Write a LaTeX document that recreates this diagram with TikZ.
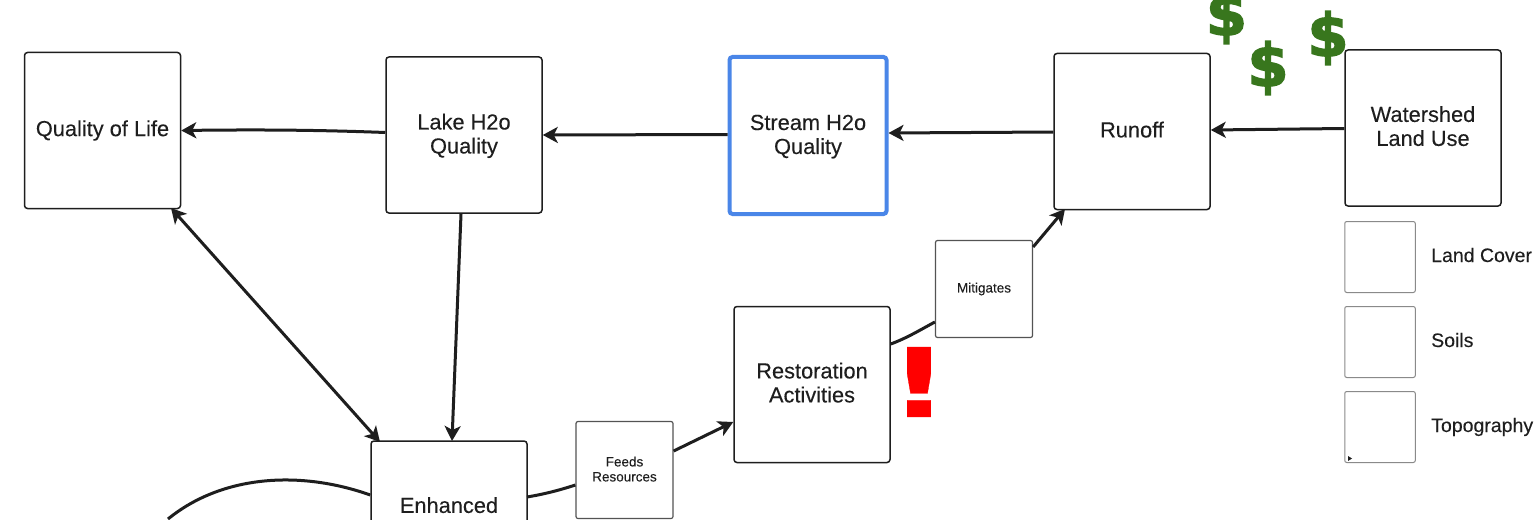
\documentclass[tikz,border=0pt]{standalone}
\usepackage{fontspec}
\setmainfont[FakeBold=0.15]{Liberation Sans}
\newfontfamily\dollarfont[FakeBold=2.6]{DejaVu Sans Bold}
\newfontfamily\bangfont[FakeBold=0.3,FakeStretch=1.4]{DejaVu Sans Bold}
\usetikzlibrary{arrows.meta}
\definecolor{ink}{HTML}{1E1E1E}
\definecolor{frame}{HTML}{8A8A8A}
\definecolor{moneygreen}{HTML}{38761D}
\definecolor{bluebox}{HTML}{4A86E8}
\newcommand{\sdown}[1]{\rule{0pt}{#1pt}}
\newcommand{\lift}[1]{\rule[-#1pt]{0pt}{0pt}}
\tikzset{
  x=1pt,y=-1pt,
  bigbox/.style={draw=ink,line width=1.5pt,rounded corners=3pt,minimum width=156pt,minimum height=156pt,inner sep=0pt,align=center,font=\fontsize{21.8}{24}\selectfont,text=ink,fill=white},
  midbox/.style={draw=frame!60!black,line width=1.2pt,rounded corners=2pt,minimum width=97pt,minimum height=97pt,inner sep=0pt,align=center,font=\fontsize{13.5}{15}\selectfont,text=ink,fill=white},
  legbox/.style={draw=frame,line width=1pt,rounded corners=2pt,minimum width=70.5pt,minimum height=71pt,inner sep=0pt,fill=white},
  legtext/.style={anchor=base west,inner sep=0pt,font=\fontsize{19.5}{22}\selectfont,text=ink},
  link/.style={draw=ink,line width=3pt},
  arrow/.style={link,-{Stealth[length=15pt,width=16pt,inset=4pt]}},
  dbl/.style={link,{Stealth[length=15pt,width=16pt,inset=4pt]}-{Stealth[length=15pt,width=16pt,inset=4pt]}},
  dollar/.style={inner sep=0pt,text=moneygreen,font=\dollarfont\fontsize{59}{59}\selectfont}
}
\begin{document}
\begin{tikzpicture}
\useasboundingbox (0,0) rectangle (1538,519);
\clip (0,0) rectangle (1538,519);
\fill[white] (0,0) rectangle (1538,519);
\node[bigbox] (qol) at (102.5,130.5) {Quality of Life};
\node[bigbox] (lake) at (464,135) {\sdown{17.5}Lake H2o\\Quality};
\node[bigbox,draw=bluebox,line width=4pt,minimum width=157pt,minimum height=157pt] (stream) at (808,135.5) {\sdown{17.5}Stream H2o\\Quality};
\node[bigbox] (runoff) at (1132,131.5) {Runoff\lift{4}};
\node[bigbox] (land) at (1423,128) {Watershed\\Land Use\lift{4}};
\node[bigbox] (rest) at (812,384.5) {Restoration\\Activities\lift{4}};
\node[bigbox] (enh) at (449,519) {Enhanced\\~\lift{4}};
\node[midbox] (mit) at (984,289) {Mitigates};
\node[midbox] (feeds) at (624.5,470) {Feeds\\Resources\lift{2}};
\node[legbox] (l1) at (1380,257) {};
\node[legbox] (l2) at (1380,342) {};
\node[legbox] (l3) at (1380,427) {};
\node[legtext] (t1) at (1431,262) {Land Cover};
\node[legtext] (t2) at (1431,347) {Soils};
\node[legtext] (t3) at (1431,432) {Topography};
\coordinate (m1) at (1348,456);
\coordinate (m2) at (1348,461);
\coordinate (m3) at (1352,458.5);
\fill[ink] (m1) -- (m2) -- (m3) -- cycle;
\draw[arrow] (land.west |- 0,128.5) -- (runoff.east |- 0,130);
\draw[arrow] (runoff.west |- 0,132) -- (stream.east |- 0,133);
\draw[arrow] (stream.west |- 0,134.5) -- (lake.east |- 0,135);
\draw[arrow] (lake.west |- 0,132.5) .. controls (320,130) and (260,129.5) .. (qol.east |- 0,130.5);
\draw[dbl] (171,208) -- (380,442);
\draw[arrow] (461,214) -- (452,441);
\draw[link] (527,497) .. controls (545,494) and (560,490) .. (feeds.west |- 0,485);
\draw[arrow] (feeds.east |- 0,451) -- (rest.west |- 0,422);
\draw[link] (rest.east |- 0,344) .. controls (907,338) and (920,330) .. (mit.west |- 0,322);
\draw[arrow] (mit.east |- 0,247) -- (1065,209);
\draw[link] (enh.west |- 0,495) .. controls (300,470) and (222,475) .. (168,519);
\node[dollar] (d1) at (1226.5,17) {\$};
\node[dollar] (d2) at (1268,68) {\$};
\node[dollar] (d3) at (1328,38) {\$};
\node[inner sep=0pt,text=red,font=\bangfont\fontsize{96}{96}\selectfont] (bang) at (919,382) {!};
\end{tikzpicture}
\end{document}
